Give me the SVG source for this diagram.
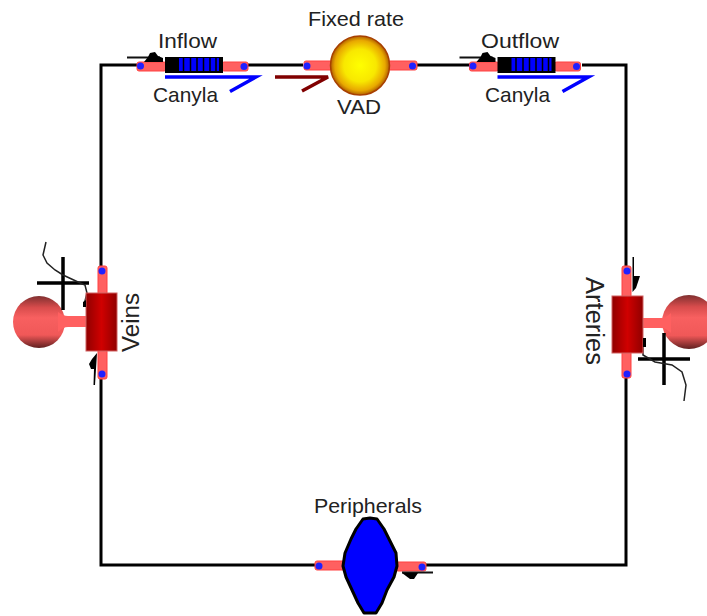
<svg xmlns="http://www.w3.org/2000/svg" width="707" height="616" viewBox="0 0 707 616">
<style>
text{font-family:"Liberation Sans",Arial,sans-serif;font-size:21px;fill:#222}
.wire{fill:none;stroke:#000;stroke-width:3}
.pipe{fill:#ff6060;stroke:#ff4040;stroke-width:1}
.port{fill:#2020ff;stroke:none}
.blk{fill:#000;stroke:none}
.thin{fill:none;stroke:#222;stroke-width:1.500}
.cross{fill:none;stroke:#000;stroke-width:3.500}
.bl{fill:none;stroke:#0000ff;stroke-width:3.500}
</style>
<defs>
<radialGradient id="vad" cx=".5" cy=".5" r=".5"><stop offset="0" stop-color="#ffff00"/><stop offset=".55" stop-color="#f8e800"/><stop offset=".85" stop-color="#e8a800"/><stop offset="1" stop-color="#b06000"/></radialGradient>
<linearGradient id="bulb" x1="0" x2="0" y1="0" y2="1"><stop offset="0" stop-color="#803030"/><stop offset=".22" stop-color="#d84c4c"/><stop offset=".42" stop-color="#f86060"/><stop offset=".75" stop-color="#f05858"/><stop offset="1" stop-color="#602020"/></linearGradient>
<linearGradient id="vol" x1="0" x2="1" y1="0" y2="0"><stop offset="0" stop-color="#900000"/><stop offset=".5" stop-color="#d00000"/><stop offset="1" stop-color="#900000"/></linearGradient>
<g id="canula">
<rect class="pipe" x="137" y="62" width="29" height="9" rx="2"/>
<rect class="pipe" x="222" y="62" width="26" height="9" rx="2"/>
<circle class="port" cx="140.500" cy="66" r="3.500"/>
<circle class="port" cx="244" cy="66.500" r="3.500"/>
<rect class="blk" x="165" y="57" width="58" height="16"/>
<rect x="179" y="58" width="40" height="13" fill="#0000ff"/>
<path d="M183.500 58V71M190.500 58V71M197 58V71M203.500 58V71M210 58V71M216 58V71" stroke="#000" stroke-width="1.500" fill="none"/>
<path class="bl" d="M165 77H256L230 91.500"/>
<path fill="none" stroke="#111" stroke-width="2" d="M127 57.500H160"/>
<path class="blk" d="M144 62L148 57L150 53L155 52L158 56L163 58V62Z"/>
</g>
</defs>
<g id="connectors">
<path class="wire" d="M137 65H101V565H316M248 65H303M417 65H498M582 65H626V565H425"/>
</g>
<g id="inflow"><use href="#canula"/><text x="158" y="48" textLength="59" lengthAdjust="spacingAndGlyphs">Inflow</text><text x="153" y="102" textLength="65" lengthAdjust="spacingAndGlyphs">Canyla</text></g>
<g id="outflow"><use href="#canula" x="332.500"/><text x="481" y="48" textLength="78" lengthAdjust="spacingAndGlyphs">Outflow</text><text x="485" y="102" textLength="65" lengthAdjust="spacingAndGlyphs">Canyla</text></g>
<g id="vad-node">
<rect class="pipe" x="304" y="61" width="30" height="9" rx="2"/>
<rect class="pipe" x="386" y="61" width="31" height="9" rx="2"/>
<circle class="port" cx="307" cy="66" r="3.500"/>
<circle class="port" cx="412.500" cy="66" r="3.500"/>
<circle cx="360" cy="65.500" r="29.500" fill="url(#vad)" stroke="#a84000" stroke-width="1.500"/>
<path d="M275 77H328L302 91" fill="none" stroke="#800000" stroke-width="3.500"/>
<text x="308" y="26" textLength="96" lengthAdjust="spacingAndGlyphs">Fixed rate</text><text x="337" y="114" textLength="44" lengthAdjust="spacingAndGlyphs">VAD</text>
</g>
<g id="veins">
<rect class="pipe" x="98" y="266" width="9" height="113" rx="2"/>
<circle class="port" cx="102" cy="271" r="3.500"/><circle class="port" cx="102" cy="374" r="3.500"/>
<circle cx="39" cy="322" r="26" fill="url(#bulb)"/>
<path d="M58 312Q63 316 68 316H87V327H68Q63 327 58 332Z" fill="#ff6060"/>
<path class="cross" d="M37 283H89M63 257V310"/>
<path class="thin" d="M46 242L43 255L47 263L55 270L63 275L78 282L85 285L87 293L84 305"/>
<rect x="86" y="293" width="31" height="58" fill="url(#vol)" stroke="#d06060" stroke-width="1"/>
<path class="blk" d="M83 302L86 300V307H83Z"/>
<path class="blk" d="M97 353L95 385H93.500L94 369H91L89 364L92 359Z"/>
<text transform="translate(139 352) rotate(-90)" textLength="59" lengthAdjust="spacingAndGlyphs" style="font-size:23px">Veins</text>
</g>
<g id="arteries">
<rect class="pipe" x="622" y="266" width="9" height="112" rx="2"/>
<circle class="port" cx="627" cy="271" r="3.500"/><circle class="port" cx="627" cy="374" r="3.500"/>
<circle cx="689" cy="322" r="27" fill="url(#bulb)"/>
<path d="M643 318H661Q666 318 671 313V333Q666 328 661 328H643Z" fill="#ff6060"/>
<path class="cross" d="M638 359H690M664 333V385"/>
<path class="thin" d="M643 338V355L655 362L672 365L682 372L686 385L684 401"/>
<rect x="612" y="296" width="31" height="57" fill="url(#vol)" stroke="#d06060" stroke-width="1"/>
<path class="blk" d="M643 338H646V347H643Z"/>
<path class="blk" d="M632.500 257H634V276H640L636 288L632.500 292Z"/>
<text transform="translate(586 277) rotate(90)" textLength="88" lengthAdjust="spacingAndGlyphs" style="font-size:25px">Arteries</text>
</g>
<g id="peripherals">
<rect class="pipe" x="315" y="561" width="30" height="9" rx="2"/>
<rect class="pipe" x="396" y="562" width="30" height="9" rx="2"/>
<circle class="port" cx="319" cy="566" r="3.500"/><circle class="port" cx="422" cy="567" r="3.500"/>
<path d="M370 518L377 519L384 529L389 539L396 553L397 566L394 577L387 590L382 603L376 613H364L358 603L352 590L346 577L343 566L345 553L351 539L356 529L363 519Z" fill="#0000ff" stroke="#000" stroke-width="3" stroke-linejoin="round"/>
<path fill="none" stroke="#111" stroke-width="2" d="M402 572.500H433"/>
<path class="blk" d="M402 573H418L414 579H410Z"/>
<text x="314" y="513" textLength="108" lengthAdjust="spacingAndGlyphs">Peripherals</text>
</g>
</svg>
